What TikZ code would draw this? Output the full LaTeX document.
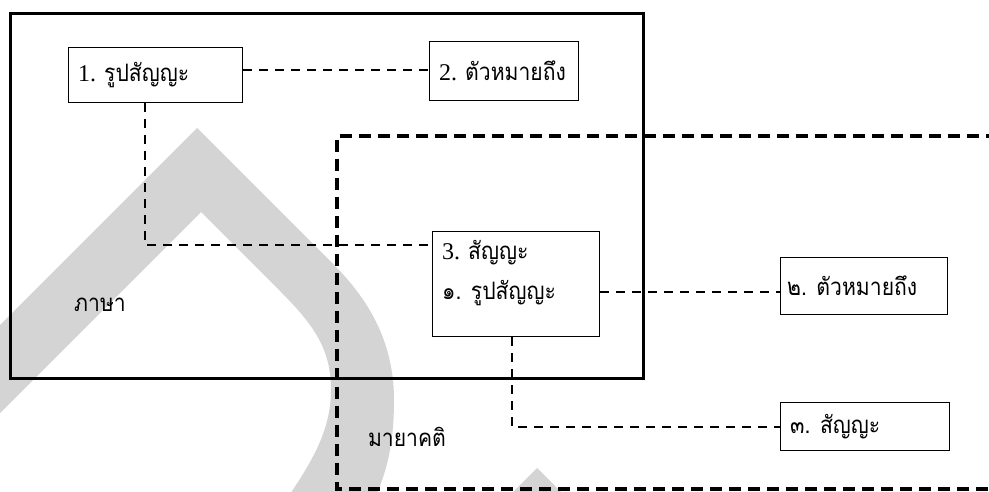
\documentclass[tikz,border=0pt]{standalone}
\usepackage{fontspec}
\newfontfamily\thai[Script=Thai, FakeStretch=0.88]{Loma}
\newfontfamily\latn{Liberation Serif}
\newcommand{\num}[1]{{\latn #1}}
\definecolor{wmgray}{HTML}{D4D4D4}
\tikzset{
  box/.style={draw=black, line width=1.4pt, fill=white, rectangle, anchor=north west,
    inner sep=0pt},
  txt/.style={font=\thai\fontsize{24}{30}\selectfont, inner sep=0pt},
  link/.style={draw=black, line width=1.2pt, dash pattern=on 9pt off 7pt},
  frame/.style={draw=black, line width=3pt},
  mythframe/.style={draw=black, line width=3.5pt, dash pattern=on 12pt off 7pt}
}
\begin{document}
\begin{tikzpicture}[x=1pt, y=-1pt]
\useasboundingbox (0,0) rectangle (989,492);
\clip (0,0) rectangle (989,492);
\fill[white] (0,0) rectangle (989,492);

% faint background emblem
\fill[wmgray] (-200,525) -- (197,128) -- (335,266)
  .. controls (375,306) and (394,350) .. (394,400)
  .. controls (394,440) and (388,470) .. (374,500)
  -- (286,500)
  .. controls (312,462) and (331,430) .. (331,390)
  .. controls (331,350) and (315,326) .. (280,291)
  -- (201,212) -- (-112,525) -- cycle;
\fill[wmgray] (537,468) -- (570,501) -- (504,501) -- cycle;

% language frame
\draw[frame] (10,14) rectangle (643,378);
\node[txt] (lang) at (100,305) {ภาษา};

% myth frame
\draw[mythframe] (998,136) -- (337,136) -- (337,489) -- (998,489);
\node[txt] (myth) at (407,437) {มายาคติ};

% first-order sign
\node[box, minimum width=174pt, minimum height=55pt] (b1) at (68,47) {};
\node[txt, anchor=west] (t1) at ([xshift=10pt]b1.west) {\num{1. }รูปสัญญะ};
\node[box, minimum width=149pt, minimum height=59pt] (b2) at (429,41) {};
\node[txt, anchor=west] (t2) at ([xshift=10pt]b2.west) {\num{2. }ตัวหมายถึง};
\node[box, minimum width=167pt, minimum height=105pt] (b3) at (432,231) {};
\node[txt, anchor=west, align=left] (t3) at (442,273)
  {\num{3. }สัญญะ\\[10pt]๑. รูปสัญญะ};

% second-order sign
\node[box, minimum width=167pt, minimum height=57pt] (b4) at (780,257) {};
\node[txt, anchor=west] (t4) at ([xshift=7pt]b4.west) {๒. ตัวหมายถึง};
\node[box, minimum width=169pt, minimum height=48pt] (b5) at (780,402) {};
\node[txt, anchor=west] (t5) at ([xshift=10pt]b5.west) {๓. สัญญะ};

% connectors
\coordinate (c1) at (145,245);
\coordinate (c2) at (600,292);
\coordinate (c3) at (512,427);
\draw[link] (b1.east |- 0,70) -- (b2.west |- 0,70);
\draw[link] (b1.south -| c1) -- (c1) -- (c1 -| b3.west);
\draw[link] (c2 -| b3.east) -- (c2 -| b4.west);
\draw[link] (b3.south -| c3) -- (c3) -- (c3 -| b5.west);
\end{tikzpicture}
\end{document}
